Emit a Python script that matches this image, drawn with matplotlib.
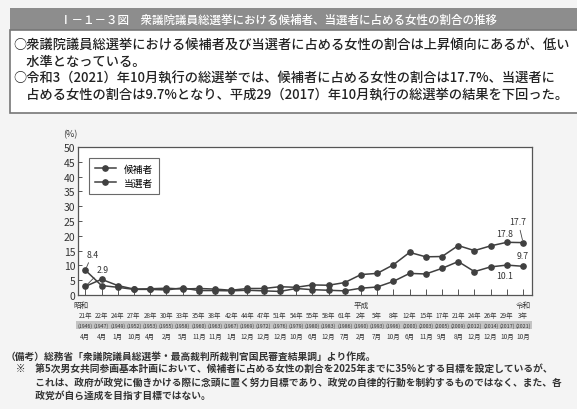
import matplotlib
matplotlib.use('Agg')
import matplotlib.pyplot as plt
from matplotlib.patches import Rectangle

plt.rcParams['font.family'] = ['Noto Sans CJK JP', 'DejaVu Sans']

# 衆議院議員総選挙 候補者・当選者に占める女性の割合 (%)
eras = {0: '昭和', 17: '平成', 27: '令和'}
years = ['21年', '22年', '24年', '27年', '28年', '30年', '33年', '35年', '38年', '42年',
         '44年', '47年', '51年', '54年', '55年', '58年', '61年', '2年', '5年', '8年',
         '12年', '15年', '17年', '21年', '24年', '26年', '29年', '3年']
western = ['(1946)', '(1947)', '(1949)', '(1952)', '(1953)', '(1955)', '(1958)', '(1960)',
           '(1963)', '(1967)', '(1969)', '(1972)', '(1976)', '(1979)', '(1980)', '(1983)',
           '(1986)', '(1990)', '(1993)', '(1996)', '(2000)', '(2003)', '(2005)', '(2009)',
           '(2012)', '(2014)', '(2017)', '(2021)']
months = ['4月', '4月', '1月', '10月', '4月', '2月', '5月', '11月', '11月', '1月', '12月',
          '12月', '12月', '10月', '6月', '12月', '7月', '2月', '7月', '10月', '6月', '11月',
          '9月', '8月', '12月', '12月', '10月', '10月']
candidates = [2.9, 5.3, 3.2, 2.0, 2.1, 2.3, 2.0, 2.2, 2.0, 1.6, 2.2, 2.2, 2.8, 2.6,
              3.4, 3.3, 4.2, 6.9, 7.3, 10.2, 14.4, 12.9, 13.0, 16.7, 15.0, 16.6, 17.8, 17.7]
winners = [8.4, 3.2, 2.6, 1.9, 1.9, 1.7, 2.4, 1.5, 1.5, 1.4, 1.6, 1.4, 1.2, 2.2,
           1.8, 1.6, 1.4, 2.3, 2.7, 4.6, 7.3, 7.1, 9.0, 11.3, 7.9, 9.5, 10.1, 9.7]

title = 'Ⅰ－１－３図　衆議院議員総選挙における候補者、当選者に占める女性の割合の推移'
summary = [
    '○衆議院議員総選挙における候補者及び当選者に占める女性の割合は上昇傾向にあるが、低い',
    '　水準となっている。',
    '○令和3（2021）年10月執行の総選挙では、候補者に占める女性の割合は17.7%、当選者に',
    '　占める女性の割合は9.7%となり、平成29（2017）年10月執行の総選挙の結果を下回った。',
]
notes = [
    '（備考）総務省「衆議院議員総選挙・最高裁判所裁判官国民審査結果調」より作成。',
    '　※　第5次男女共同参画基本計画において、候補者に占める女性の割合を2025年までに35%とする目標を設定しているが、',
    '　　　これは、政府が政党に働きかける際に念頭に置く努力目標であり、政党の自律的行動を制約するものではなく、また、各',
    '　　　政党が自ら達成を目指す目標ではない。',
]

W, H = 577, 410


def fx(px):
    return px / W


def fy(py):
    return 1 - py / H


fig = plt.figure(figsize=(W / 100, H / 100), dpi=100, facecolor='#f4f4f4')

# title bar and summary box
fig.patches.append(Rectangle((fx(10), fy(31)), fx(570), 22 / H, transform=fig.transFigure,
                             facecolor='#8d8d8d', edgecolor='none'))
fig.patches.append(Rectangle((fx(10), fy(114)), fx(570), 83 / H, transform=fig.transFigure,
                             facecolor='white', edgecolor='#777777', lw=1.2))
fig.text(fx(60), fy(20), title, color='white', fontsize=8.3, va='center', fontweight='medium')
for i, line in enumerate(summary):
    fig.text(fx(13), fy(45 + i * 16.7), line, fontsize=9.5, color='#222222', va='center',
             fontweight='medium')

ax = fig.add_axes([fx(78), fy(296), 454 / W, 148 / H])
x = list(range(len(years)))
ax.plot(x, candidates, '-o', color='#404040', lw=1.1, ms=3.8, label='候補者')
ax.plot(x, winners, '-o', color='#404040', lw=1.1, ms=3.8, label='当選者')

ax.set_xlim(-0.45, 27.55)
ax.set_ylim(0, 50)
ax.set_yticks(range(0, 51, 5))
ax.set_xticks(x)
ax.set_xticklabels([])
ax.tick_params(axis='x', direction='in', length=4, width=0.7, color='#555555')
ax.tick_params(axis='y', direction='in', length=3, width=0.7, color='#555555',
               labelsize=7.5, labelcolor='#333333', pad=2)
for s in ax.spines.values():
    s.set_color('#555555')
    s.set_linewidth(0.9)
fig.text(fx(70), fy(135), '(%)', fontsize=6.5, color='#333333', ha='center', va='center')

leg = ax.legend(loc='upper left', bbox_to_anchor=(0.024, 0.926), borderaxespad=0,
                fancybox=False, edgecolor='#444444', fontsize=7, handlelength=2.2,
                borderpad=0.6, labelspacing=0.4)
leg.get_frame().set_linewidth(0.8)

# value labels with leader lines
lab = dict(textcoords='offset pixels', fontsize=6.3, color='#333333', ha='center', va='center',
           arrowprops=dict(arrowstyle='-', lw=0.6, color='#444444', shrinkA=1, shrinkB=2))
ax.annotate(f'{winners[0]}', (0, winners[0]), xytext=(7, 16), **lab)
ax.annotate(f'{candidates[0]}', (0, candidates[0]), xytext=(17, 17), **lab)
ax.annotate(f'{candidates[-1]}', (27, candidates[-1]), xytext=(-5, 21), **lab)
lab.pop('arrowprops')
ax.annotate(f'{candidates[-2]}', (26, candidates[-2]), xytext=(-2, 9), **lab)
ax.annotate(f'{winners[-1]}', (27, winners[-1]), xytext=(0, 11), **lab)
ax.annotate(f'{winners[-2]}', (26, winners[-2]), xytext=(-2, -10), **lab)

# category labels under the axis
row = dict(xycoords=('data', 'axes fraction'), textcoords='offset pixels',
           ha='center', va='center', color='#333333')
for i, era in eras.items():
    ax.annotate(era, (i, 0), xytext=(-4 if i == 0 else 0, -10), fontsize=5.5, **row)
for i in x:
    ax.annotate(years[i], (i, 0), xytext=(0, -20), fontsize=4.6, **row)
    ax.annotate(western[i], (i, 0), xytext=(0, -30), fontsize=3.8,
                bbox=dict(boxstyle='square,pad=0.25', facecolor='#c4c4c4', edgecolor='none'), **row)
    ax.annotate(months[i], (i, 0), xytext=(0, -41), fontsize=4.6, **row)

for i, line in enumerate(notes):
    fig.text(fx(6), fy(357 + i * 13), line, fontsize=7.0, color='#333333', va='center',
             fontweight='bold')

fig.savefig('out.png', dpi=100, facecolor=fig.get_facecolor())
